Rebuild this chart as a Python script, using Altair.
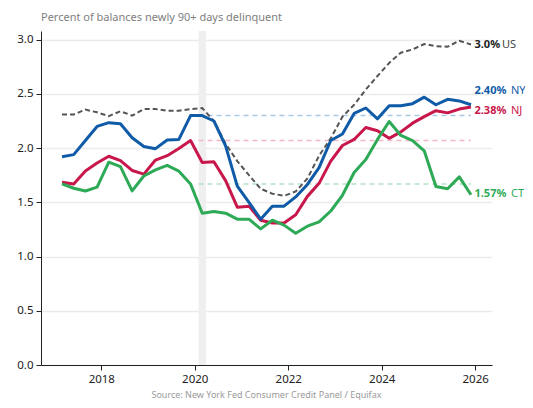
import altair as alt
import pandas as pd

quarters = [f"{y}Q{q}" for y in range(2017, 2026) for q in range(1, 5)]

us = [2.31, 2.31, 2.355, 2.33, 2.295, 2.34, 2.30, 2.36, 2.36, 2.345, 2.345, 2.36,
      2.37, 2.25, 2.04, 1.88, 1.75, 1.625, 1.58, 1.56, 1.60, 1.72, 1.93, 2.09,
      2.29, 2.40, 2.54, 2.665, 2.785, 2.88, 2.91, 2.96, 2.94, 2.935, 2.99, 2.955]
ny = [1.92, 1.94, 2.07, 2.20, 2.235, 2.225, 2.095, 2.015, 1.995, 2.075, 2.08, 2.30,
      2.30, 2.25, 2.02, 1.65, 1.50, 1.345, 1.465, 1.465, 1.55, 1.665, 1.82, 2.07,
      2.13, 2.32, 2.37, 2.27, 2.39, 2.39, 2.41, 2.47, 2.40, 2.45, 2.435, 2.40]
nj = [1.685, 1.67, 1.79, 1.863, 1.925, 1.885, 1.794, 1.76, 1.89, 1.93, 1.997, 2.07,
      1.868, 1.874, 1.70, 1.455, 1.465, 1.335, 1.31, 1.31, 1.385, 1.555, 1.675, 1.88,
      2.024, 2.08, 2.19, 2.16, 2.09, 2.15, 2.23, 2.29, 2.345, 2.325, 2.36, 2.38]
ct = [1.67, 1.63, 1.605, 1.64, 1.87, 1.83, 1.605, 1.743, 1.80, 1.84, 1.787, 1.67,
      1.40, 1.415, 1.40, 1.345, 1.345, 1.255, 1.335, 1.29, 1.215, 1.28, 1.32, 1.42,
      1.565, 1.775, 1.895, 2.08, 2.245, 2.117, 2.07, 1.975, 1.646, 1.625, 1.735, 1.57]

series_names = ["US", "NY", "NJ", "CT"]
series_vals = [us, ny, nj, ct]
line_colors = ["#555555", "#0f5ba7", "#c8174b", "#2eaa57"]
ref_colors = ["#ffffff", "#a9c7e6", "#f2b7c7", "#b3e2c3"]
label_dy = [0, -14, 4, -1]
label_fmt = [".1f", ".2f", ".2f", ".2f"]
code_dx = [31, 40, 40, 40]

covid = [2020.08, 2020.24]
ref_index = 11  # 2019Q4

title_text = "Percent of balances newly 90+ days delinquent"
source_text = "Source: New York Fed Consumer Credit Panel / Equifax"

def qyear(q):
    return int(q[:4]) + (int(q[-1]) - 1) * 0.25 + 0.16

t = [qyear(q) for q in quarters]

rows = []
for name, vals in zip(series_names, series_vals):
    for ti, v in zip(t, vals):
        rows.append({"t": ti, "v": v, "series": name})
df = pd.DataFrame(rows)

W, H = 451, 334
FONT = "Noto Sans"
xs = alt.Scale(domain=[2016.71, 2026.36], nice=False, zero=False)
ys = alt.Scale(domain=[0, 3.08], nice=False)

x_axis = alt.Axis(values=[2018, 2020, 2022, 2024, 2026], format="d", grid=False,
                  domainColor="#222", domainWidth=1, tickColor="#222", tickSize=5,
                  labelFontSize=11.5, labelColor="#222", labelPadding=3,
                  labelFont=FONT, title=None)
y_axis = alt.Axis(values=[0, 0.5, 1.0, 1.5, 2.0, 2.5, 3.0], format=".1f", grid=True,
                  gridColor="#ebebeb", gridWidth=1.5, domainColor="#222", domainWidth=1,
                  tickColor="#222", tickSize=5, labelFontSize=11.5, labelColor="#222",
                  labelPadding=3, labelFont=FONT, title=None)

def X(f):
    return alt.X(f, scale=xs, axis=x_axis)

def Y(f):
    return alt.Y(f, scale=ys, axis=y_axis)

band = alt.Chart(pd.DataFrame({"s": [covid[0]], "e": [covid[1]], "lo": [0.0], "hi": [3.08]})).mark_rect(
    color="#efefef").encode(x=X("s:Q"), x2="e:Q", y=Y("lo:Q"), y2="hi:Q")

# reference lines (pre-pandemic level)
ref_rows = []
for name, vals, c in zip(series_names[1:], series_vals[1:], ref_colors[1:]):
    ref_rows.append({"s": covid[0], "e": t[-1], "v": vals[ref_index], "c": c})
refs = alt.Chart(pd.DataFrame(ref_rows)).mark_rule(
    strokeDash=[5, 4], strokeWidth=1.5).encode(
    x=X("s:Q"), x2="e:Q", y=Y("v:Q"),
    color=alt.Color("c:N", scale=None))

layers = [band, refs]
order = ["US", "NJ", "NY", "CT"]
for name in order:
    i = series_names.index(name)
    props = dict(color=line_colors[i], strokeWidth=3, strokeJoin="round")
    if name == "US":
        props = dict(color=line_colors[i], strokeWidth=2, strokeDash=[5, 3])
    layers.append(
        alt.Chart(df).transform_filter(alt.datum.series == name).mark_line(**props).encode(
            x=X("t:Q"), y=Y("v:Q")))

for i, name in enumerate(series_names):
    last = series_vals[i][-1]
    ldf = pd.DataFrame({"t": [t[-1]], "v": [last],
                        "txt": [format(last, label_fmt[i]) + "%"], "code": [name]})
    bold_color = "#1a1a1a" if name == "US" else line_colors[i]
    code_color = "#444444" if name == "US" else line_colors[i]
    base = alt.Chart(ldf).encode(x=X("t:Q"), y=Y("v:Q"))
    layers.append(base.mark_text(align="left", baseline="middle", dx=3.5, dy=label_dy[i],
                                 fontWeight="bold", fontSize=11, font=FONT,
                                 color=bold_color).encode(text="txt:N"))
    layers.append(base.mark_text(align="left", baseline="middle", dx=code_dx[i], dy=label_dy[i],
                                 fontSize=11, font=FONT, color=code_color).encode(text="code:N"))

title = alt.Chart(pd.DataFrame({"txt": [title_text]})).mark_text(
    align="left", baseline="alphabetic", fontSize=11, font=FONT, color="#808080").encode(
    text="txt:N", x=alt.value(0), y=alt.value(-10))
source = alt.Chart(pd.DataFrame({"txt": [source_text]})).mark_text(
    align="center", baseline="middle", fontSize=9, font=FONT, color="#9a9a9a").encode(
    text="txt:N", x=alt.value(W / 2), y=alt.value(H + 30))
layers += [title, source]

chart = alt.layer(*layers).properties(
    width=W, height=H,
    padding={"left": 33, "top": 23, "right": 33, "bottom": 35},
    autosize=alt.AutoSizeParams(type="none"),
    background="white",
).configure_view(stroke=None)

chart.save("out.html", embed_options={"renderer": "svg", "actions": False})
